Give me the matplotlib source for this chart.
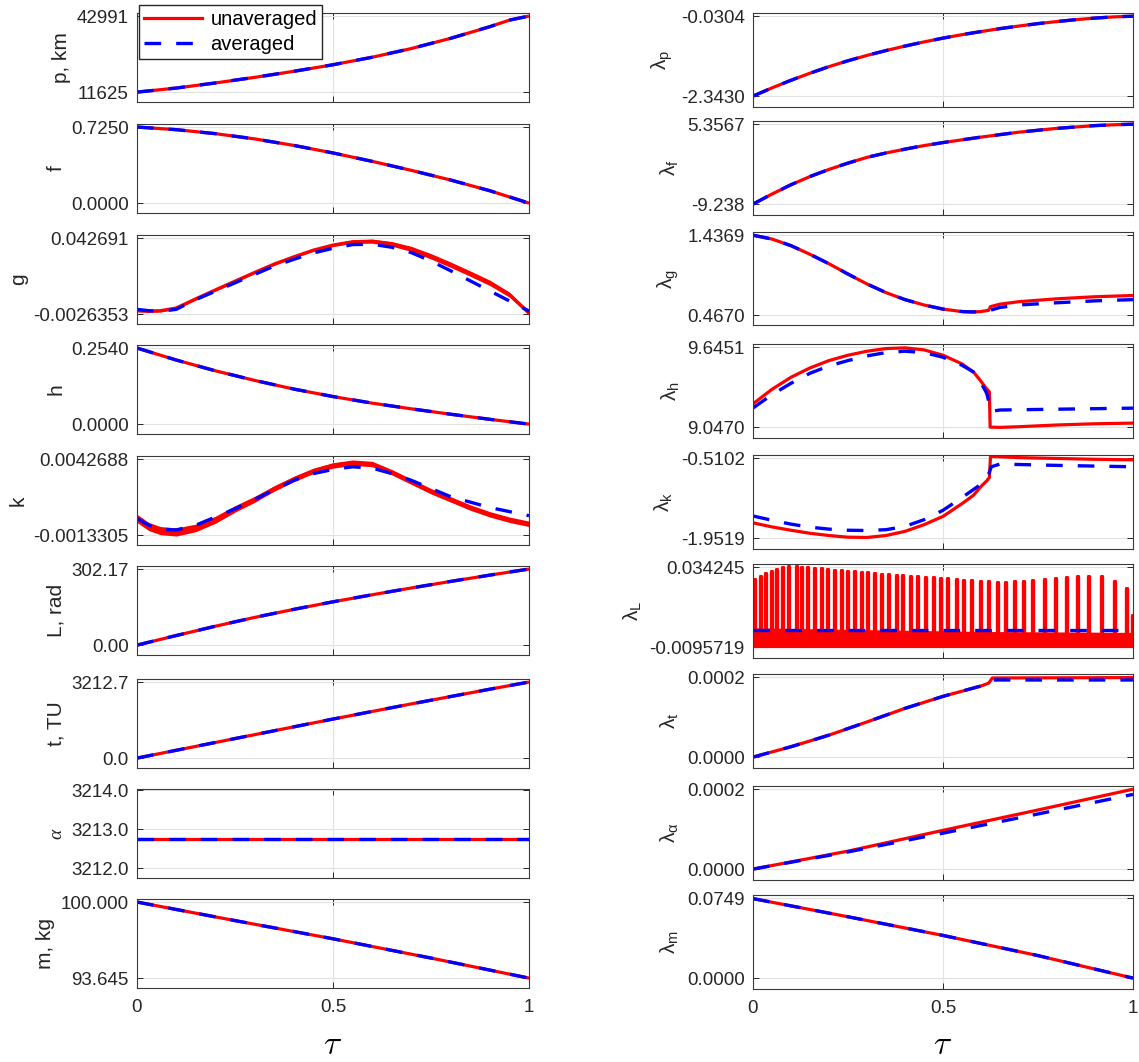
import numpy as np
import matplotlib
matplotlib.use('Agg')
import matplotlib.pyplot as plt
from matplotlib.lines import Line2D

plt.rcParams['font.family'] = ['Liberation Sans', 'DejaVu Sans']

# ---------------- left column: states ----------------
tau_p = [0, 0.1, 0.2, 0.3, 0.4, 0.5, 0.6, 0.7, 0.8, 0.9, 0.95, 1.0]
p_km = [11625, 13300, 15400, 17700, 20200, 22900, 26000, 29600, 33800, 38600, 41300, 42991]

tau_f = [0, 0.1, 0.2, 0.3, 0.4, 0.5, 0.6, 0.7, 0.8, 0.9, 1.0]
f_val = [0.725, 0.700, 0.662, 0.612, 0.550, 0.478, 0.398, 0.312, 0.220, 0.118, 0.0]

tau_g = [0, 0.03, 0.06, 0.1, 0.15, 0.2, 0.25, 0.3, 0.35, 0.4, 0.45, 0.5, 0.55,
         0.6, 0.65, 0.7, 0.75, 0.8, 0.85, 0.9, 0.95, 1.0]
g_avg = [0.0002, -0.0006, -0.0010, 0.0002, 0.0060, 0.0110, 0.0160, 0.0210, 0.0260,
         0.0300, 0.0338, 0.0366, 0.0388, 0.0390, 0.0372, 0.0340, 0.0290, 0.0232,
         0.0172, 0.0112, 0.0052, -0.0008]
g_unavg = [-0.0005, -0.0008, -0.0006, 0.0010, 0.0065, 0.0118, 0.0170, 0.0222, 0.0272,
           0.0315, 0.0355, 0.0385, 0.0405, 0.0408, 0.0392, 0.0362, 0.0318, 0.0268,
           0.0215, 0.0160, 0.0090, -0.0020]
g_wiggle = [0.0008, 0.0008, 0.0008, 0.0008, 0.0008, 0.0008, 0.0008, 0.0008, 0.0008,
            0.0008, 0.0008, 0.0009, 0.0010, 0.0012, 0.0014, 0.0015, 0.0016, 0.0016,
            0.0016, 0.0016, 0.0015, 0.0012]

tau_h = [0, 0.1, 0.2, 0.3, 0.4, 0.5, 0.6, 0.7, 0.8, 0.9, 1.0]
h_val = [0.254, 0.214, 0.178, 0.146, 0.117, 0.092, 0.070, 0.051, 0.033, 0.016, 0.0]

tau_k = [0, 0.03, 0.06, 0.1, 0.15, 0.2, 0.25, 0.3, 0.35, 0.4, 0.45, 0.5, 0.55, 0.6,
         0.65, 0.7, 0.75, 0.8, 0.85, 0.9, 0.95, 1.0]
k_avg = [-0.0001, -0.0006, -0.0009, -0.00095, -0.0006, 0.0000, 0.0006, 0.0013, 0.0020,
         0.0027, 0.0032, 0.0035, 0.0037, 0.0036, 0.0032, 0.0027, 0.0021, 0.0015,
         0.0011, 0.0007, 0.0004, 0.0001]
k_unavg = [-0.0001, -0.0007, -0.0010, -0.0011, -0.0008, -0.0002, 0.0006, 0.0013, 0.0021,
           0.0028, 0.0034, 0.0038, 0.0040, 0.0039, 0.0033, 0.0026, 0.0019, 0.0013,
           0.0007, 0.0002, -0.0002, -0.0005]
k_wiggle = [0.0003, 0.0003, 0.0003, 0.0003, 0.00028, 0.00026, 0.00024, 0.00022, 0.0002,
            0.0002, 0.0002, 0.0002, 0.0002, 0.0002, 0.0002, 0.0002, 0.0002, 0.0002,
            0.0002, 0.0002, 0.0002, 0.0002]

tau_L = [0, 0.1, 0.2, 0.3, 0.4, 0.5, 0.6, 0.7, 0.8, 0.9, 1.0]
L_rad = [0, 38, 75, 110, 142, 172, 200, 227, 253, 278, 302.17]

tau_t = [0, 0.1, 0.2, 0.3, 0.4, 0.5, 0.6, 0.7, 0.8, 0.9, 1.0]
t_tu = [0, 330, 660, 990, 1320, 1650, 1970, 2290, 2600, 2910, 3212.7]

tau_a = [0, 1.0]
alpha_val = [3212.74, 3212.74]

tau_m = [0, 0.25, 0.5, 0.75, 1.0]
m_kg = [100.0, 98.45, 96.93, 95.32, 93.645]

# ---------------- right column: costates ----------------
tau_lp = [0, 0.05, 0.1, 0.15, 0.2, 0.25, 0.3, 0.35, 0.4, 0.45, 0.5, 0.55, 0.6, 0.65,
          0.7, 0.75, 0.8, 0.85, 0.9, 0.95, 1.0]
lp_val = [-2.343, -2.105, -1.885, -1.68, -1.49, -1.32, -1.165, -1.025, -0.895, -0.775,
          -0.665, -0.565, -0.475, -0.39, -0.315, -0.245, -0.185, -0.13, -0.085, -0.05, -0.0304]

tau_lf = [0, 0.05, 0.1, 0.15, 0.2, 0.25, 0.3, 0.35, 0.4, 0.45, 0.5, 0.55, 0.6, 0.65,
          0.7, 0.75, 0.8, 0.85, 0.9, 0.95, 1.0]
lf_val = [-9.238, -7.4, -5.7, -4.2, -2.9, -1.75, -0.7, 0.1, 0.8, 1.45, 2.0, 2.5, 3.0,
          3.45, 3.9, 4.25, 4.6, 4.85, 5.1, 5.25, 5.3567]

tau_lg_u = [0, 0.05, 0.1, 0.15, 0.2, 0.25, 0.3, 0.35, 0.4, 0.45, 0.5, 0.55, 0.58, 0.6,
            0.62, 0.625, 0.65, 0.7, 0.8, 0.9, 1.0]
lg_unavg = [1.4369, 1.39, 1.31, 1.205, 1.09, 0.965, 0.845, 0.74, 0.655, 0.59, 0.54, 0.51,
            0.505, 0.51, 0.525, 0.57, 0.60, 0.63, 0.665, 0.69, 0.705]
tau_lg_a = [0, 0.05, 0.1, 0.15, 0.2, 0.25, 0.3, 0.35, 0.4, 0.45, 0.5, 0.55, 0.58, 0.6,
            0.62, 0.65, 0.7, 0.8, 0.9, 1.0]
lg_avg = [1.4369, 1.39, 1.31, 1.205, 1.09, 0.965, 0.845, 0.74, 0.655, 0.59, 0.54, 0.51,
          0.505, 0.51, 0.52, 0.56, 0.59, 0.617, 0.64, 0.655]

tau_lh_u = [0, 0.05, 0.1, 0.15, 0.2, 0.25, 0.3, 0.35, 0.4, 0.45, 0.5, 0.55, 0.58, 0.6,
            0.61, 0.622, 0.624, 0.65, 0.7, 0.8, 0.9, 1.0]
lh_unavg = [9.221, 9.33, 9.42, 9.49, 9.545, 9.585, 9.615, 9.635, 9.64, 9.625, 9.585, 9.52,
            9.46, 9.39, 9.35, 9.31, 9.047, 9.045, 9.05, 9.063, 9.072, 9.077]
tau_lh_a = [0, 0.05, 0.1, 0.15, 0.2, 0.25, 0.3, 0.35, 0.4, 0.45, 0.5, 0.55, 0.58, 0.6,
            0.615, 0.627, 0.65, 1.0]
lh_avg = [9.19, 9.29, 9.375, 9.45, 9.505, 9.545, 9.58, 9.605, 9.615, 9.605, 9.57, 9.51,
          9.46, 9.38, 9.30, 9.165, 9.175, 9.189]

tau_lk_u = [0, 0.05, 0.1, 0.15, 0.2, 0.25, 0.3, 0.35, 0.4, 0.45, 0.5, 0.55, 0.58, 0.6,
            0.615, 0.622, 0.625, 0.65, 0.7, 0.8, 0.9, 1.0]
lk_unavg = [-1.676, -1.75, -1.81, -1.865, -1.905, -1.935, -1.94, -1.905, -1.83, -1.71,
            -1.56, -1.33, -1.18, -1.02, -0.92, -0.86, -0.48, -0.485, -0.50, -0.515, -0.53, -0.54]
tau_lk_a = [0, 0.05, 0.1, 0.15, 0.2, 0.25, 0.3, 0.35, 0.4, 0.45, 0.5, 0.55, 0.6, 0.62,
            0.627, 0.65, 0.8, 1.0]
lk_avg = [-1.553, -1.63, -1.70, -1.755, -1.79, -1.81, -1.815, -1.80, -1.74, -1.62, -1.45,
          -1.22, -0.98, -0.80, -0.665, -0.616, -0.64, -0.665]

# lambda_L: spikes of the unaveraged solution
lL_spike_tau = [0.005, 0.021, 0.034, 0.049, 0.064, 0.080, 0.096, 0.115, 0.130, 0.146,
                0.163, 0.181, 0.198, 0.216, 0.233, 0.251, 0.268, 0.286, 0.303, 0.321,
                0.340, 0.359, 0.378, 0.396, 0.415, 0.435, 0.454, 0.475, 0.494, 0.514,
                0.536, 0.556, 0.577, 0.599, 0.621, 0.644, 0.666, 0.689, 0.713, 0.738,
                0.768, 0.797, 0.826, 0.856, 0.885, 0.918, 0.953, 0.983, 1.0]
lL_spike_peak = [0.0273, 0.0286, 0.0305, 0.0318, 0.0329, 0.0339, 0.0342, 0.0342, 0.0340,
                 0.0337, 0.0333, 0.0330, 0.0327, 0.0324, 0.0320, 0.0317, 0.0314, 0.0311,
                 0.0308, 0.0305, 0.0302, 0.0299, 0.0296, 0.0293, 0.0290, 0.0287, 0.0284,
                 0.0281, 0.0278, 0.0275, 0.0272, 0.0269, 0.0266, 0.0263, 0.0260, 0.0258,
                 0.0258, 0.0260, 0.0264, 0.0268, 0.0273, 0.0277, 0.0282, 0.0286, 0.0286,
                 0.0286, 0.0262, 0.0225, 0.0076]
lL_spike_base = -0.0088
tau_lL_band = [0, 0.3, 0.6, 1.0]
lL_band_lo = [-0.0092, -0.0092, -0.0090, -0.0090]
lL_band_hi = [0.0010, 0.0000, -0.0010, -0.0015]
tau_lL_avg = [0, 1.0]
lL_avg = [-0.0003, -0.0003]

tau_lt_u = [0, 0.1, 0.2, 0.3, 0.4, 0.5, 0.55, 0.6, 0.62, 0.63, 1.0]
lt_unavg = [0, 0.000026, 0.000055, 0.000088, 0.000122, 0.000152, 0.000165, 0.000178,
            0.000185, 0.000198, 0.000199]
lt_avg = [0, 0.000026, 0.000055, 0.000088, 0.000122, 0.000152, 0.000165, 0.000178,
          0.000185, 0.000193, 0.000193]

tau_la = [0, 0.25, 0.5, 0.75, 1.0]
la_unavg = [0, 0.000045, 0.000097, 0.000148, 0.0002]
la_avg = [0, 0.000043, 0.000090, 0.000138, 0.000187]

tau_lm = [0, 0.25, 0.5, 0.75, 1.0]
lm_val = [0.0745, 0.0575, 0.040, 0.0211, 0.0]

# tick values / labels
left_ticks = [([11625, 42991], ['11625', '42991']),
              ([0.0, 0.725], ['0.0000', '0.7250']),
              ([-0.0026353, 0.042691], ['-0.0026353', '0.042691']),
              ([0.0, 0.254], ['0.0000', '0.2540']),
              ([-0.0013305, 0.0042688], ['-0.0013305', '0.0042688']),
              ([0.0, 302.17], ['0.00', '302.17']),
              ([0.0, 3212.7], ['0.0', '3212.7']),
              ([3212.0, 3213.0, 3214.0], ['3212.0', '3213.0', '3214.0']),
              ([93.645, 100.0], ['93.645', '100.000'])]
right_ticks = [([-2.343, -0.0304], ['-2.3430', '-0.0304']),
               ([-9.238, 5.3567], ['-9.238', '5.3567']),
               ([0.467, 1.4369], ['0.4670', '1.4369']),
               ([9.047, 9.6451], ['9.0470', '9.6451']),
               ([-1.9519, -0.5102], ['-1.9519', '-0.5102']),
               ([-0.0095719, 0.034245], ['-0.0095719', '0.034245']),
               ([0.0, 0.0002], ['0.0000', '0.0002']),
               ([0.0, 0.0002], ['0.0000', '0.0002']),
               ([0.0, 0.0749], ['0.0000', '0.0749'])]
left_labels = ['p, km', 'f', 'g', 'h', 'k', 'L, rad', 't, TU', None, 'm, kg']
right_labels = ['λ$_{\\mathregular{p}}$', 'λ$_{\\mathregular{f}}$', 'λ$_{\\mathregular{g}}$',
                'λ$_{\\mathregular{h}}$', 'λ$_{\\mathregular{k}}$', 'λ$_{\\mathregular{L}}$',
                'λ$_{\\mathregular{t}}$', 'λ$_{\\mathregular{\\alpha}}$', 'λ$_{\\mathregular{m}}$']

RED = '#ff0000'
BLUE = '#0000ff'
LW_R = 2.3
LW_B = 2.4
DASH = (5, 4.5)
EDGE = '#3a3a3a'
TXT = '#262626'

W, H = 1139, 1062
fig = plt.figure(figsize=(W / 100, H / 100), dpi=100)

left_tops = [13, 124, 235, 345, 456, 566, 679, 789, 899]
right_tops = [13, 121, 232, 344, 455, 564, 674, 786, 895]


def make_ax(x0, x1, top, height):
    return fig.add_axes([x0 / W, 1 - (top + height) / H, (x1 - x0) / W, height / H])


def style(ax, ticks, ticklabels, ylabel, bottom, lims=None):
    ax.set_xlim(0, 1)
    ax.set_xticks([0, 0.5, 1])
    lo, hi = min(ticks), max(ticks)
    if lims is None:
        r = hi - lo
        lims = (lo - 0.13 * r, hi + 0.04 * r)
    ax.set_ylim(*lims)
    ax.set_yticks(ticks)
    ax.set_yticklabels(ticklabels)
    ax.grid(True, color='#e2e2e2', lw=0.8)
    ax.set_axisbelow(True)
    ax.tick_params(direction='in', length=4, width=0.7, colors=TXT,
                   top=True, right=True, labelsize=13.5)
    ax.tick_params(axis='y', pad=6)
    ax.tick_params(axis='x', pad=8)
    for s in ax.spines.values():
        s.set_color(EDGE)
        s.set_linewidth(0.8)
    if bottom:
        ax.set_xticklabels(['0', '0.5', '1'])
        ax.set_xlabel(r'$\tau$', fontsize=24, math_fontfamily='cm', labelpad=10)
    else:
        ax.set_xticklabels([])
    if ylabel is not None:
        ax.set_ylabel(ylabel, fontsize=15, color=TXT, labelpad=4)


def pair(ax, x, yu, ya, xa=None):
    ax.plot(x, yu, color=RED, lw=LW_R, solid_capstyle='butt')
    ax.plot(x if xa is None else xa, ya, color=BLUE, lw=LW_B, dashes=DASH)


# ----- left column -----
LX0, LX1 = 137, 529
LH = 89
axL = [make_ax(LX0, LX1, t, LH) for t in left_tops]

pair(axL[0], tau_p, p_km, p_km)
pair(axL[1], tau_f, f_val, f_val)

g_lo = np.array(g_unavg) - np.array(g_wiggle)
g_hi = np.array(g_unavg) + np.array(g_wiggle)
axL[2].fill_between(tau_g, g_lo, g_hi, color=RED, lw=0)
pair(axL[2], tau_g, g_unavg, g_avg)

pair(axL[3], tau_h, h_val, h_val)

k_lo = np.array(k_unavg) - np.array(k_wiggle)
k_hi = np.array(k_unavg) + np.array(k_wiggle)
axL[4].fill_between(tau_k, k_lo, k_hi, color=RED, lw=0)
pair(axL[4], tau_k, k_unavg, k_avg)

pair(axL[5], tau_L, L_rad, L_rad)
pair(axL[6], tau_t, t_tu, t_tu)
pair(axL[7], tau_a, alpha_val, alpha_val)
pair(axL[8], tau_m, m_kg, m_kg)

for i, ax in enumerate(axL):
    lims = (3211.75, 3214.03) if i == 7 else None
    style(ax, left_ticks[i][0], left_ticks[i][1], left_labels[i], i == 8, lims)
axL[7].set_ylabel('α', fontsize=14, family='Liberation Serif', style='italic',
                  color=TXT, labelpad=4)

# ----- right column -----
RX0, RX1 = 753, 1133
RH = 93.5
axR = [make_ax(RX0, RX1, t, RH) for t in right_tops]

pair(axR[0], tau_lp, lp_val, lp_val)
pair(axR[1], tau_lf, lf_val, lf_val)
pair(axR[2], tau_lg_u, lg_unavg, lg_avg, xa=tau_lg_a)
pair(axR[3], tau_lh_u, lh_unavg, lh_avg, xa=tau_lh_a)
pair(axR[4], tau_lk_u, lk_unavg, lk_avg, xa=tau_lk_a)

# lambda_L spikes
axR[5].fill_between(tau_lL_band, lL_band_lo, lL_band_hi, color=RED, lw=0)
sx = np.repeat(lL_spike_tau, 3)
sy = np.column_stack([np.full(len(lL_spike_peak), lL_spike_base), lL_spike_peak,
                      np.full(len(lL_spike_peak), lL_spike_base)]).ravel()
axR[5].plot(sx, sy, color=RED, lw=3.0)
axR[5].plot(tau_lL_avg, lL_avg, color=BLUE, lw=LW_B, dashes=DASH)

pair(axR[6], tau_lt_u, lt_unavg, lt_avg)
pair(axR[7], tau_la, la_unavg, la_avg)
pair(axR[8], tau_lm, lm_val, lm_val)

for i, ax in enumerate(axR):
    style(ax, right_ticks[i][0], right_ticks[i][1], right_labels[i], i == 8)

# legend
handles = [Line2D([], [], color=RED, lw=LW_R),
           Line2D([], [], color=BLUE, lw=LW_B, dashes=DASH)]
fig.legend(handles, ['unaveraged', 'averaged'], loc='upper left',
           bbox_to_anchor=(139 / W, 1 - 5 / H), fontsize=14.5, frameon=True,
           fancybox=False, edgecolor=TXT, framealpha=1, handlelength=2.9,
           borderaxespad=0, borderpad=0.25, labelspacing=0.3, handletextpad=0.4)

fig.savefig('out.png', dpi=100)
